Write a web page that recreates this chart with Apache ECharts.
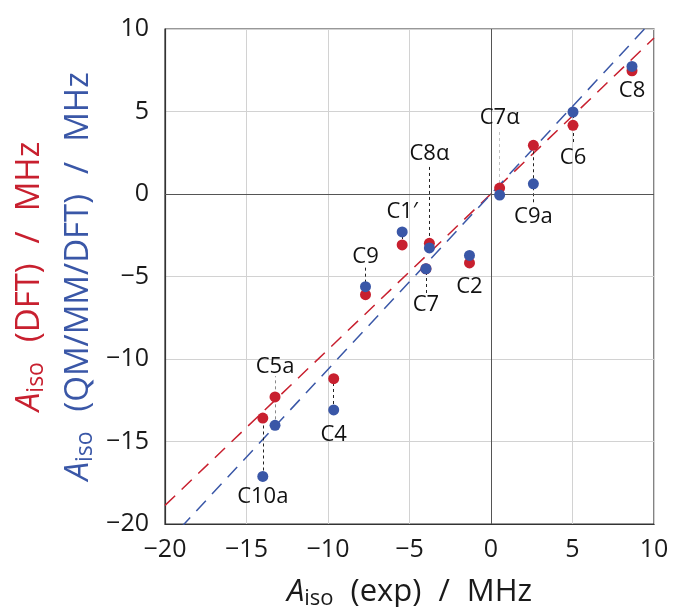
<!DOCTYPE html>
<html>
<head>
<meta charset="utf-8">
<script src="https://cdn.jsdelivr.net/npm/echarts@6/dist/echarts.min.js"></script>
<style>
  html, body { margin: 0; padding: 0; background: #fff; }
  #chart { width: 679px; height: 607px; }
</style>
</head>
<body>
<div id="chart"></div>
<script>
// Hyperfine coupling constants per carbon site (MHz)
const siteNames  = ['C10a', 'C5a', 'C4', 'C9', 'C1′', 'C8α', 'C7', 'C2', 'C7α', 'C9a', 'C6', 'C8'];
const expShifts  = [-14.0, -13.25, -9.65, -7.7, -5.45, -3.78, -3.99, -1.32, 0.53, 2.6, 5.03, 8.65];
const dftShifts  = [-13.58, -12.3, -11.19, -6.1, -3.09, -2.99, -4.53, -4.18, 0.36, 2.95, 4.16, 7.47];
const qmmmShifts = [-17.12, -14.02, -13.09, -5.62, -2.3, -3.27, -4.53, -3.72, -0.06, 0.62, 4.97, 7.73];

// Linear trend lines (end points over the axis range)
const dftFit  = [[-20, -18.87], [10, 9.45]];
const qmmmFit = [[-20, -21.25], [10, 10.62]];

// Axis ticks
const tickValues = [-20, -15, -10, -5, 0, 5, 10];

// Label placement (data units) and where each leader line reaches the label
const labelY     = [-18.36, -10.45, -14.59, -3.78, -1.05, 2.44, -6.71, -5.6, 4.6, -1.36, 2.18, 6.24];
const leaderEdge = [null, -11.05, null, -4.45, null, 1.65, -6.0, null, 3.95, -0.5, 3.15, null];
const leaderTone = ['#222', '#8a8a8a', '#222', '#222', '#222', '#222', '#222', '#222', '#c4c4c4', '#222', '#222', '#222'];

const RED = '#c8202f';
const BLUE = '#3a57a7';
const INK = '#1a1a1a';
const FONT = '"Open Sans", "Noto Sans", sans-serif';

const fmt = v => (v < 0 ? '\u2212' + (-v) : String(v));

const leaderData = siteNames.map((n, i) => {
  const ys = [dftShifts[i], qmmmShifts[i]];
  if (leaderEdge[i] !== null) ys.push(leaderEdge[i]);
  return {
    coords: [[expShifts[i], Math.min(...ys)], [expShifts[i], Math.max(...ys)]],
    lineStyle: { color: leaderTone[i] }
  };
});

// Rich-text styles for an "A_iso (…) / MHz" axis title
const titleRich = (p, color, size, sub, lh, gap) => {
  const base = { fontFamily: FONT, fontSize: size, color: color, lineHeight: lh };
  return {
    [p + 'a']: Object.assign({}, base, { fontStyle: 'italic' }),
    [p + 's']: Object.assign({}, base, { fontSize: sub, padding: [13, 0, 0, 0] }),
    [p + 't']: Object.assign({}, base, { padding: [0, 0, 0, gap] }),
    [p + 'd']: Object.assign({}, base, { padding: [0, gap, 0, gap] }),
    [p + 'u']: base
  };
};
const titleText = (p, tag) => `{${p}a|A}{${p}s|iso}{${p}t|(${tag})}{${p}d|/}{${p}u|MHz}`;

const chart = echarts.init(document.getElementById('chart'), null, { renderer: 'canvas' });

chart.setOption({
  animation: false,
  backgroundColor: '#fff',
  grid: {
    left: 165, right: 25, top: 29, bottom: 83,
    outerBoundsMode: 'none',
    containLabel: false,
    show: true, borderColor: '#333', borderWidth: 1.2, backgroundColor: '#fff'
  },
  xAxis: {
    type: 'value', min: tickValues[0], max: tickValues[tickValues.length - 1], interval: 5,
    axisLine: { show: true, onZero: false, lineStyle: { color: '#333', width: 1.2 } },
    axisTick: { show: false },
    splitLine: { show: true, lineStyle: { color: '#d2d2d2', width: 1 } },
    axisLabel: { fontFamily: FONT, fontSize: 25, color: INK, margin: 13, formatter: fmt },
    name: titleText('x', 'exp'),
    nameLocation: 'middle',
    nameGap: 48,
    nameMoveOverlap: false,
    nameTextStyle: { rich: titleRich('x', INK, 31, 22, 40, 17) }
  },
  yAxis: {
    type: 'value', min: tickValues[0], max: tickValues[tickValues.length - 1], interval: 5,
    axisLine: { show: true, onZero: false, lineStyle: { color: '#333', width: 1.2 } },
    axisTick: { show: false },
    splitLine: { show: true, lineStyle: { color: '#d2d2d2', width: 1 } },
    axisLabel: { fontFamily: FONT, fontSize: 25, color: INK, margin: 16, formatter: fmt },
    name: titleText('r', 'DFT') + '\n' + titleText('b', 'QM/MM/DFT'),
    nameLocation: 'middle',
    nameRotate: 90,
    nameGap: 62,
    nameMoveOverlap: false,
    nameTextStyle: {
      lineHeight: 49,
      align: 'center',
      rich: Object.assign({}, titleRich('r', RED, 33, 23, 49, 20), titleRich('b', BLUE, 33, 23, 49, 20))
    }
  },
  series: [
    {
      name: 'zero',
      type: 'line',
      data: [],
      markLine: {
        silent: true,
        symbol: 'none',
        label: { show: false },
        lineStyle: { color: '#555', type: 'solid', width: 1 },
        data: [{ xAxis: 0 }, { yAxis: 0 }]
      }
    },
    {
      name: 'DFT fit',
      type: 'line',
      data: dftFit,
      showSymbol: false,
      symbol: 'none',
      lineStyle: { color: RED, width: 1.5, type: [14, 9] },
      z: 3
    },
    {
      name: 'QM/MM fit',
      type: 'line',
      data: qmmmFit,
      showSymbol: false,
      symbol: 'none',
      lineStyle: { color: BLUE, width: 1.5, type: [14, 9] },
      z: 3
    },
    {
      name: 'leaders',
      type: 'lines',
      coordinateSystem: 'cartesian2d',
      data: leaderData,
      lineStyle: { width: 1, type: [3, 3], opacity: 1 },
      z: 4
    },
    {
      name: 'DFT',
      type: 'scatter',
      data: expShifts.map((x, i) => [x, dftShifts[i]]),
      symbolSize: 11,
      itemStyle: { color: RED, opacity: 1 },
      z: 5
    },
    {
      name: 'QM/MM/DFT',
      type: 'scatter',
      data: expShifts.map((x, i) => [x, qmmmShifts[i]]),
      symbolSize: 11,
      itemStyle: { color: BLUE, opacity: 1 },
      z: 6
    },
    {
      name: 'site labels',
      type: 'scatter',
      data: expShifts.map((x, i) => ({ value: [x, labelY[i]], name: siteNames[i] })),
      symbolSize: 1,
      itemStyle: { color: 'rgba(0,0,0,0)' },
      label: {
        show: true,
        position: 'inside',
        formatter: p => p.name,
        fontFamily: FONT,
        fontSize: 22,
        color: '#111',
        opacity: 1
      },
      labelLayout: { hideOverlap: false },
      z: 7
    }
  ]
});
</script>
</body>
</html>
